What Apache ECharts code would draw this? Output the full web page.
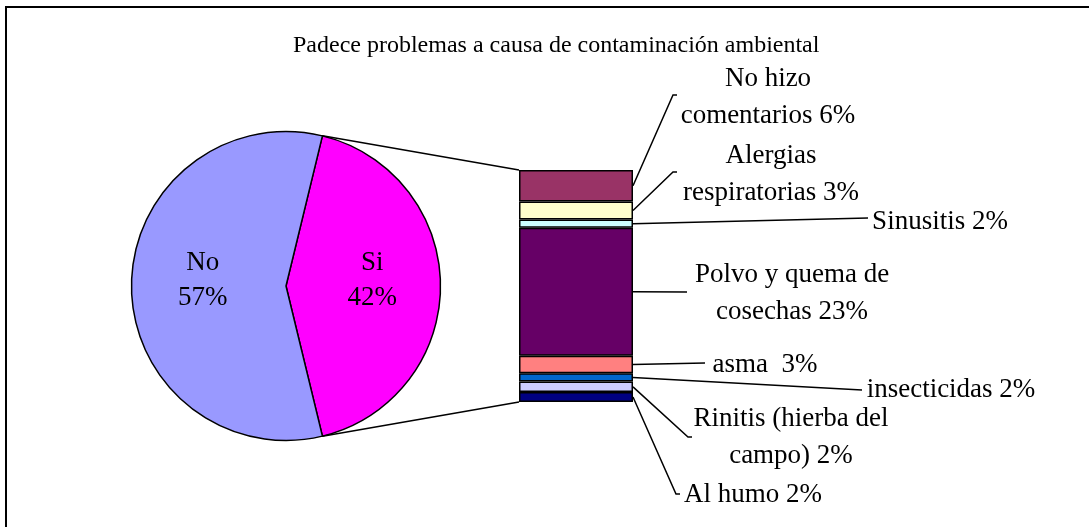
<!DOCTYPE html>
<html>
<head>
  <meta charset="utf-8">
  <title>Padece problemas a causa de contaminación ambiental</title>
  <script src="https://cdn.jsdelivr.net/npm/echarts@6/dist/echarts.min.js"></script>
  <style>
    body { margin: 0; padding: 0; background: #fff; }
    #main { width: 1089px; height: 527px; }
  </style>
</head>
<body>
<div id="main"></div>
<script>
  // datos
  var TITLE = 'Padece problemas a causa de contaminación ambiental';
  var pieNames = ['Si', 'No'];
  var pieValues = [42, 57];
  var pieColors = ['#FF00FF', '#9999FF'];

  // desglose de "Si", de arriba hacia abajo
  var barNames = ['No hizo\ncomentarios', 'Alergias\nrespiratorias', 'Sinusitis',
    'Polvo y quema de\ncosechas', 'asma ', 'insecticidas', 'Rinitis (hierba del\ncampo)', 'Al humo'];
  var barValues = [5.7, 3.3, 1.5, 23.2, 3.2, 1.5, 1.9, 1.8];
  var barColors = ['#993366', '#FFFFCC', '#CCFFFF', '#660066', '#FF8080', '#0066CC', '#CCCCFF', '#000080'];

  // posicion de las etiquetas y fin de las lineas guia
  var labelPos = [[768, 97], [771, 174], [940, 222], [792, 293], [765, 365], [951, 390], [791, 437], [753, 495]];
  var lineEnd = [[673, 95, 1], [673, 172, 1], [868, 218, 0], [687, 292, 0], [705, 363, 0], [862, 390, 0], [688, 437, 1], [676, 494, 1]];

  var FONT = '"Liberation Serif", "Times New Roman", serif';
  var PIE_CENTER = [286, 286];
  var PIE_R = 154.5;

  var myChart = echarts.init(document.getElementById('main'), null, {renderer: 'canvas'});

  var piePct = pieValues[0] / (pieValues[0] + pieValues[1]);
  var halfAngle = piePct * 180;
  var total = barValues.reduce(function (a, b) { return a + b; }, 0);

  var series = [];
  // se apilan de abajo hacia arriba
  for (var i = barValues.length - 1; i >= 0; i--) {
    (function (k) {
      series.push({
        name: barNames[k].replace('\n', ' '),
        type: 'bar',
        stack: 'si',
        barWidth: '100%',
        silent: true,
        data: [barValues[k]],
        itemStyle: { color: barColors[k], borderColor: '#000', borderWidth: 1.5 },
        label: {
          show: true,
          color: '#000',
          fontFamily: FONT,
          fontSize: 27,
          lineHeight: 37,
          formatter: function () {
            return barNames[k] + ' ' + Math.round(barValues[k]) + '%';
          }
        },
        labelLayout: {
          x: labelPos[k][0],
          y: labelPos[k][1],
          align: 'center',
          verticalAlign: 'middle'
        },
        emphasis: { disabled: true }
      });
    })(i);
  }
  series.push({
    type: 'pie',
    center: PIE_CENTER,
    radius: PIE_R,
    startAngle: halfAngle,
    clockwise: true,
    silent: true,
    emphasis: { disabled: true },
    itemStyle: { borderColor: '#000', borderWidth: 1.5 },
    label: {
      show: true,
      position: 'inside',
      color: '#000',
      fontFamily: FONT,
      fontSize: 27,
      lineHeight: 35,
      formatter: '{b}\n{c}%'
    },
    labelLayout: function (p) {
      return { dx: p.dataIndex === 0 ? 3 : -1.5, dy: -3 };
    },
    data: pieNames.map(function (n, j) {
      return { name: n, value: pieValues[j], itemStyle: { color: pieColors[j] } };
    })
  });

  var option = {
    animation: false,
    backgroundColor: '#fff',
    title: {
      text: TITLE,
      left: 293,
      top: 34,
      padding: 0,
      textStyle: { fontFamily: FONT, fontSize: 24, fontWeight: 'normal', color: '#000' }
    },
    grid: { left: 519, top: 170, width: 114, height: 232 },
    xAxis: { type: 'category', data: ['Si'], show: false },
    yAxis: { type: 'value', min: 0, max: total, show: false },
    series: series
  };
  myChart.setOption(option);

  // lineas: conexion pastel-barra y guias de etiquetas
  function drawLines() {
    var model = myChart.getModel();
    var n = barValues.length;
    var g = [{
      type: 'rect', z: 100, silent: true,
      shape: { x: 6, y: 7, width: 1200, height: 700 },
      style: { fill: null, stroke: '#000', lineWidth: 2 }
    }];
    var left = Infinity, right = -Infinity, top = Infinity, bottom = -Infinity;
    var mids = [];
    for (var s = 0; s < n; s++) {
      var lay = model.getSeriesByIndex(s).getData().getItemLayout(0);
      var y0 = Math.min(lay.y, lay.y + lay.height), y1 = Math.max(lay.y, lay.y + lay.height);
      left = Math.min(left, lay.x); right = Math.max(right, lay.x + lay.width);
      top = Math.min(top, y0); bottom = Math.max(bottom, y1);
      mids[n - 1 - s] = (y0 + y1) / 2;
    }
    var a = halfAngle * Math.PI / 180;
    var px = PIE_CENTER[0] + PIE_R * Math.cos(a);
    var pyT = PIE_CENTER[1] - PIE_R * Math.sin(a);
    var pyB = PIE_CENTER[1] + PIE_R * Math.sin(a);
    g.push({ type: 'line', silent: true, z: 10, shape: { x1: px, y1: pyT, x2: left, y2: top }, style: { stroke: '#000', lineWidth: 1.5 } });
    g.push({ type: 'line', silent: true, z: 10, shape: { x1: px, y1: pyB, x2: left, y2: bottom }, style: { stroke: '#000', lineWidth: 1.5 } });
    for (var k = 0; k < n; k++) {
      var e = lineEnd[k];
      var pts = [[right, mids[k]], [e[0], e[1]]];
      if (e[2]) pts.push([e[0] + 4, e[1]]);
      g.push({ type: 'polyline', silent: true, z: 10, shape: { points: pts }, style: { stroke: '#000', lineWidth: 1.5, fill: null } });
    }
    myChart.setOption({ graphic: g });
  }
  drawLines();
  window.addEventListener('resize', function () {
    myChart.resize();
    drawLines();
  });
</script>
</body>
</html>
